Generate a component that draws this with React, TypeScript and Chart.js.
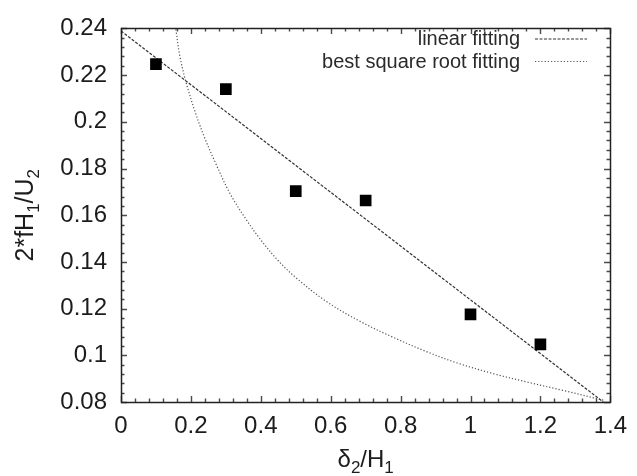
import React, { useEffect, useRef } from "react";
import { Chart, registerables } from "chart.js";

Chart.register(...registerables);

// Measured data (squares)
const dataX = [0.1, 0.3, 0.5, 0.7, 1.0, 1.2];
const dataY = [0.2247, 0.214, 0.1703, 0.1663, 0.1175, 0.1047];

// Linear fitting line (end points)
const linX = [0, 1.38];
const linY = [0.2389, 0.08];

// Best square root fitting curve
const sqrtX = [0.157, 0.168, 0.185, 0.211, 0.24, 0.27, 0.311, 0.358, 0.401, 0.45, 0.5, 0.587, 0.682, 0.776, 0.872, 0.962, 1.071, 1.16, 1.261, 1.385];
const sqrtY = [0.2396, 0.2284, 0.2175, 0.2047, 0.1929, 0.1825, 0.1695, 0.1582, 0.1492, 0.1405, 0.1333, 0.1231, 0.1147, 0.1079, 0.1017, 0.0967, 0.0919, 0.0886, 0.0851, 0.0806];

// Axis ticks
const xTicks = [0, 0.2, 0.4, 0.6, 0.8, 1.0, 1.2, 1.4];
const xTickLabels = ["0", "0.2", "0.4", "0.6", "0.8", "1", "1.2", "1.4"];
const yTicks = [0.08, 0.1, 0.12, 0.14, 0.16, 0.18, 0.2, 0.22, 0.24];
const yTickLabels = ["0.08", "0.1", "0.12", "0.14", "0.16", "0.18", "0.2", "0.22", "0.24"];
const xMinorPerMajor = 5;
const yMinorPerMajor = 5;

const legendLabels = ["linear fitting", "best square root fitting"];

const FONT = "'Liberation Sans', Arial, sans-serif";
const INK = "#1c1c1c";

const zip = (xs: number[], ys: number[]) => xs.map((x, i) => ({ x, y: ys[i] }));

const decorPlugin = {
  id: "gnuplotDecor",
  afterDraw(chart: any) {
    const ctx: CanvasRenderingContext2D = chart.ctx;
    const ca = chart.chartArea;
    const left = Math.round(ca.left);
    const right = Math.round(ca.right);
    const top = Math.round(ca.top);
    const bottom = Math.round(ca.bottom);
    const xs = chart.scales.x;
    const ys = chart.scales.y;
    ctx.save();
    ctx.setLineDash([]);

    // tick marks (inward, on all four sides)
    ctx.strokeStyle = "#4a4a4a";
    ctx.lineWidth = 1.4;
    ctx.beginPath();
    for (let j = 0; j < xTicks.length; j++) {
      for (let k = 0; k < xMinorPerMajor; k++) {
        if (j === xTicks.length - 1 && k > 0) break;
        const v0 = xTicks[j];
        const v1 = j + 1 < xTicks.length ? xTicks[j + 1] : v0;
        const v = v0 + ((v1 - v0) * k) / xMinorPerMajor;
        const px = Math.round(xs.getPixelForValue(v)) + 0.5;
        const len = k === 0 ? 6 : 3.5;
        ctx.moveTo(px, bottom);
        ctx.lineTo(px, bottom - len);
        ctx.moveTo(px, top);
        ctx.lineTo(px, top + len);
      }
    }
    for (let j = 0; j < yTicks.length; j++) {
      for (let k = 0; k < yMinorPerMajor; k++) {
        if (j === yTicks.length - 1 && k > 0) break;
        const v0 = yTicks[j];
        const v1 = j + 1 < yTicks.length ? yTicks[j + 1] : v0;
        const v = v0 + ((v1 - v0) * k) / yMinorPerMajor;
        const py = Math.round(ys.getPixelForValue(v)) + 0.5;
        const len = k === 0 ? 6 : 3.5;
        ctx.moveTo(left, py);
        ctx.lineTo(left + len, py);
        ctx.moveTo(right, py);
        ctx.lineTo(right - len, py);
      }
    }
    ctx.stroke();

    // frame
    ctx.strokeStyle = "#222";
    ctx.lineWidth = 1.5;
    ctx.strokeRect(left + 0.5, top + 0.5, right - left, bottom - top);

    // legend (top right, text right-aligned, sample to the right)
    ctx.font = `20px ${FONT}`;
    ctx.fillStyle = "#2a2a2a";
    ctx.textAlign = "right";
    ctx.textBaseline = "middle";
    const rows = [38.5, 61];
    const styles = [
      { dash: [3, 1.5], color: "#333" },
      { dash: [1.2, 2], color: "#555" },
    ];
    ctx.lineWidth = 1.2;
    legendLabels.forEach((lab, i) => {
      ctx.fillText(lab, 520, rows[i] + 1);
      ctx.beginPath();
      ctx.setLineDash(styles[i].dash);
      ctx.strokeStyle = styles[i].color;
      ctx.moveTo(535, rows[i] + 0.5);
      ctx.lineTo(587, rows[i] + 0.5);
      ctx.stroke();
    });
    ctx.setLineDash([]);

    // axis titles with subscripts
    const drawSub = (parts: { t: string; sub?: boolean }[], big: number, small: number, shift: number) => {
      let w = 0;
      parts.forEach((p) => {
        ctx.font = `${p.sub ? small : big}px ${FONT}`;
        w += ctx.measureText(p.t).width;
      });
      let x = -w / 2;
      ctx.textAlign = "left";
      ctx.textBaseline = "alphabetic";
      parts.forEach((p) => {
        ctx.font = `${p.sub ? small : big}px ${FONT}`;
        ctx.fillText(p.t, x, p.sub ? shift : 0);
        x += ctx.measureText(p.t).width;
      });
    };
    ctx.fillStyle = INK;
    ctx.save();
    ctx.translate((ca.left + ca.right) / 2, 466.5);
    drawSub([{ t: "δ" }, { t: "2", sub: true }, { t: "/H" }, { t: "1", sub: true }], 24, 17, 6);
    ctx.restore();

    ctx.save();
    ctx.translate(32.5, (ca.top + ca.bottom) / 2);
    ctx.rotate(-Math.PI / 2);
    drawSub([{ t: "2*fH" }, { t: "1", sub: true }, { t: "/U" }, { t: "2", sub: true }], 25, 17, 6);
    ctx.restore();

    ctx.restore();
  },
};

export default function App() {
  const ref = useRef<HTMLCanvasElement | null>(null);
  useEffect(() => {
    if (!ref.current) return;
    const chart = new Chart(ref.current, {
      type: "scatter",
      data: {
        datasets: [
          {
            label: "data",
            data: zip(dataX, dataY),
            pointStyle: "rect",
            pointRadius: 8.25,
            backgroundColor: "#000",
            borderColor: "#000",
            borderWidth: 0,
            showLine: false,
          },
          {
            label: legendLabels[0],
            data: zip(linX, linY),
            showLine: true,
            pointRadius: 0,
            borderColor: "#333",
            borderWidth: 1.2,
            borderDash: [3, 1.5],
          },
          {
            label: legendLabels[1],
            data: zip(sqrtX, sqrtY),
            showLine: true,
            pointRadius: 0,
            borderColor: "#555",
            borderWidth: 1.2,
            borderDash: [1.2, 2],
            tension: 0.35,
          },
        ] as any,
      },
      options: {
        animation: false,
        responsive: false,
        layout: { padding: { left: 0, top: 21, right: 25, bottom: 0 } },
        plugins: { legend: { display: false }, tooltip: { enabled: false } },
        scales: {
          x: {
            type: "linear",
            min: 0,
            max: 1.4,
            grid: { display: false, drawTicks: false },
            border: { display: false },
            afterBuildTicks: (s: any) => {
              s.ticks = xTicks.map((v) => ({ value: v }));
            },
            afterFit: (s: any) => {
              s.height = 74;
            },
            ticks: {
              autoSkip: false,
              maxRotation: 0,
              padding: 10,
              color: INK,
              font: { family: FONT, size: 24 },
              callback: (_v: any, i: number) => xTickLabels[i],
            },
          },
          y: {
            type: "linear",
            min: 0.08,
            max: 0.24,
            grid: { display: false, drawTicks: false },
            border: { display: false },
            afterBuildTicks: (s: any) => {
              s.ticks = yTicks.map((v) => ({ value: v }));
            },
            afterFit: (s: any) => {
              s.width = 121;
            },
            ticks: {
              autoSkip: false,
              padding: 14,
              color: INK,
              font: { family: FONT, size: 24 },
              callback: (_v: any, i: number) => yTickLabels[i],
            },
          },
        },
      },
      plugins: [decorPlugin],
    } as any);
    return () => chart.destroy();
  }, []);
  return (
    <div style={{ position: "absolute", left: 0, top: 0, width: 637, height: 476, background: "#fff" }}>
      <canvas ref={ref} width={637} height={476} style={{ display: "block" }} />
    </div>
  );
}
